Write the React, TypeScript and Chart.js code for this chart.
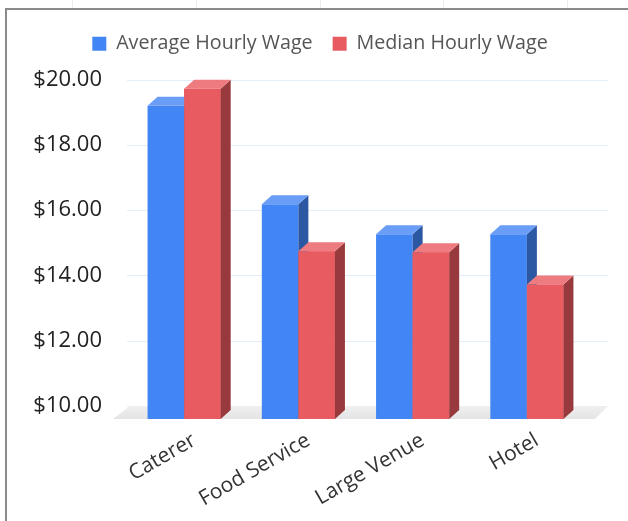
import React, { useEffect, useRef } from "react";
import { Chart, registerables } from "chart.js";

Chart.register(...registerables);

const categories = ["Caterer", "Food Service", "Large Venue", "Hotel"];
const averageWage = [19.2, 16.18, 15.26, 15.26];
const medianWage = [19.72, 14.74, 14.71, 13.72];
const seriesNames = ["Average Hourly Wage", "Median Hourly Wage"];
const yTicks = [10, 12, 14, 16, 18, 20];

const FRONT = ["#4285f4", "#e85c61"];
const TOP = ["#6a9df6", "#ee7b7f"];
const SIDE = ["#2c57a2", "#983a3d"];
const DX = 10;
const DY = 9;

const bar3d = {
  id: "bar3d",
  beforeDatasetsDraw(chart: any) {
    const { ctx, chartArea, scales } = chart;
    const y = scales.y;
    ctx.save();
    ctx.strokeStyle = "#e3eefa";
    ctx.lineWidth = 1;
    yTicks.forEach((v) => {
      const py = Math.round(y.getPixelForValue(v)) + 0.5;
      ctx.beginPath();
      ctx.moveTo(chartArea.left, py);
      ctx.lineTo(chartArea.right + 24, py);
      ctx.stroke();
    });
    const back = y.getPixelForValue(yTicks[0]);
    const front = chartArea.bottom;
    const grad = ctx.createLinearGradient(0, back, 0, front);
    grad.addColorStop(0, "#f0f0f0");
    grad.addColorStop(1, "#e4e4e4");
    ctx.fillStyle = grad;
    ctx.beginPath();
    ctx.moveTo(chartArea.left + 3, back);
    ctx.lineTo(chartArea.right + 24, back);
    ctx.lineTo(chartArea.right + 11, front);
    ctx.lineTo(chartArea.left - 14, front);
    ctx.closePath();
    ctx.fill();
    ctx.restore();
  },
  afterDatasetsDraw(chart: any) {
    const ctx = chart.ctx;
    const bottom = chart.chartArea.bottom;
    ctx.save();
    chart.data.datasets.forEach((_ds: any, di: number) => {
      const meta = chart.getDatasetMeta(di);
      meta.data.forEach((bar: any) => {
        const p = bar.getProps(["x", "y", "base", "width"], true);
        const y = p.y;
        const base = Math.min(p.base, bottom);
        const l = p.x - p.width / 2;
        const r = p.x + p.width / 2;
        if (di > 0) {
          ctx.fillStyle = FRONT[di];
          ctx.fillRect(l, y, r - l, base - y);
        }
        ctx.fillStyle = SIDE[di];
        ctx.beginPath();
        ctx.moveTo(r, y);
        ctx.lineTo(r + DX, y - DY);
        ctx.lineTo(r + DX, base - DY);
        ctx.lineTo(r, base);
        ctx.closePath();
        ctx.fill();
        ctx.fillStyle = TOP[di];
        ctx.beginPath();
        ctx.moveTo(l, y);
        ctx.lineTo(r, y);
        ctx.lineTo(r + DX, y - DY);
        ctx.lineTo(l + DX, y - DY);
        ctx.closePath();
        ctx.fill();
      });
    });
    ctx.restore();
  },
};

export default function App() {
  const ref = useRef<HTMLCanvasElement>(null);
  useEffect(() => {
    if (!ref.current) return;
    Chart.defaults.font.family = "'Open Sans', 'Noto Sans', sans-serif";
    const chart = new Chart(ref.current, {
      type: "bar",
      data: {
        labels: categories,
        datasets: [
          {
            label: seriesNames[0],
            data: averageWage,
            backgroundColor: FRONT[0],
            borderWidth: 0,
            categoryPercentage: 0.64,
            barPercentage: 1,
          },
          {
            label: seriesNames[1],
            data: medianWage,
            backgroundColor: FRONT[1],
            borderWidth: 0,
            categoryPercentage: 0.64,
            barPercentage: 1,
          },
        ],
      },
      options: {
        responsive: false,
        animation: false,
        layout: { padding: { top: 14, right: 0, left: 12, bottom: 0 } },
        plugins: {
          legend: {
            labels: {
              boxWidth: 14,
              boxHeight: 14,
              padding: 20,
              color: "#555555",
              font: { size: 19.7 },
            },
          },
          tooltip: { enabled: false },
        },
        scales: {
          x: {
            grid: { display: false, drawTicks: false },
            border: { display: false },
            ticks: {
              color: "#333333",
              font: { size: 21 },
              minRotation: 30,
              maxRotation: 30,
              autoSkip: false,
              padding: 9,
              labelOffset: 10,
            },
            afterFit: (s: any) => {
              s.height = 102;
            },
          },
          y: {
            min: 9.6,
            max: 20.49,
            grid: { display: false, drawTicks: false },
            border: { display: false },
            afterBuildTicks: (s: any) => {
              s.ticks = yTicks.map((v) => ({ value: v }));
            },
            afterFit: (s: any) => {
              s.width = 115;
            },
            ticks: {
              padding: 25,
              color: "#222222",
              font: { size: 22 },
              callback: (v: any) => "$" + Number(v).toFixed(2),
            },
          },
          y2: {
            type: "linear",
            position: "right",
            display: true,
            grid: { display: false, drawTicks: false },
            border: { display: false },
            ticks: { display: false },
            afterFit: (s: any) => {
              s.width = 44;
            },
          },
        },
      },
      plugins: [bar3d],
    });
    return () => chart.destroy();
  }, []);

  const marks = [72, 196, 320, 443, 567];
  return (
    <div style={{ position: "fixed", left: 0, top: 0, width: 628, height: 521, background: "#fff", overflow: "hidden" }}>
      {marks.map((m) => (
        <div key={m} style={{ position: "absolute", left: m, top: 0, width: 1, height: 8, background: "#ececec" }} />
      ))}
      <div
        style={{
          position: "absolute",
          left: 5,
          top: 8,
          right: -2,
          bottom: -2,
          borderLeft: "2px solid #8a8a8a",
          borderTop: "2px solid #8a8a8a",
        }}
      />
      <canvas ref={ref} width={628} height={521} style={{ position: "absolute", left: 0, top: 0, display: "block" }} />
    </div>
  );
}
